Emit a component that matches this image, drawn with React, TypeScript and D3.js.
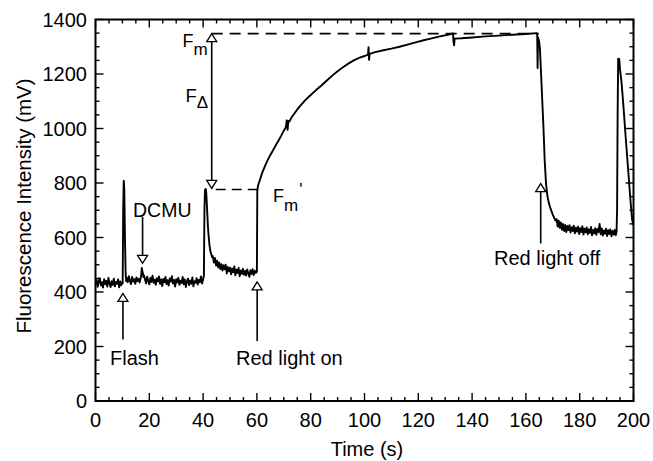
import React from 'react';
import * as d3 from 'd3';

type P = [number, number];

const xTicks = [0, 20, 40, 60, 80, 100, 120, 140, 160, 180, 200];
const yTicks = [0, 200, 400, 600, 800, 1000, 1200, 1400];

// Fluorescence trace (time s, mV)
const preFlash: P[] = [
  [0, 428], [0.4, 445], [0.8, 419], [1.2, 438], [1.6, 451], [2.0, 424], [2.4, 436], [2.8, 416],
  [3.2, 447], [3.6, 429], [4.0, 441], [4.4, 420], [4.8, 452], [5.2, 433], [5.6, 418], [6.0, 440],
  [6.4, 426], [6.8, 449], [7.2, 421], [7.6, 437], [8.0, 430], [8.4, 446], [8.8, 417], [9.2, 439],
  [9.6, 425], [10.0, 434],
];
const flashSpike: P[] = [
  [10.1, 432], [10.3, 700], [10.5, 808], [10.7, 780], [10.95, 600], [11.2, 470], [11.4, 440],
];
const postFlash: P[] = [
  [11.6, 452], [12.0, 436], [12.4, 458], [12.8, 441], [13.2, 429], [13.6, 455], [14.0, 438],
  [14.4, 447], [14.8, 430], [15.2, 453], [15.6, 440], [16.0, 449], [16.4, 435], [16.8, 451],
];
const dcmuBump: P[] = [
  [17.0, 462], [17.2, 488], [17.4, 478], [17.6, 470], [17.8, 455], [18.0, 461],
];
const postDcmu: P[] = [
  [18.4, 447], [18.8, 432], [19.2, 456], [19.6, 441], [20.0, 428], [20.4, 452], [20.8, 437],
  [21.2, 460], [21.6, 434], [22.0, 445], [22.4, 426], [22.8, 451], [23.2, 439], [23.6, 457],
  [24.0, 430], [24.4, 446], [24.8, 422], [25.2, 448], [25.6, 436], [26.0, 455], [26.4, 429],
  [26.8, 443], [27.2, 424], [27.6, 450], [28.0, 438], [28.4, 458], [28.8, 431], [29.2, 444],
  [29.6, 420], [30.0, 447], [30.4, 435], [30.8, 452], [31.2, 426], [31.6, 441], [32.0, 433],
  [32.4, 455], [32.8, 428], [33.2, 446], [33.6, 418], [34.0, 439], [34.4, 449], [34.8, 425],
  [35.2, 442], [35.6, 430], [36.0, 453], [36.4, 421], [36.8, 440], [37.2, 434], [37.6, 451],
  [38.0, 427], [38.4, 444], [38.8, 436], [39.2, 457], [39.6, 431], [40.0, 446],
];
const secondFlash: P[] = [
  [40.3, 460], [40.5, 700], [40.7, 775], [41.0, 778], [41.2, 760], [41.5, 700], [41.8, 640],
  [42.1, 600], [42.4, 570], [42.7, 550], [43.0, 540], [43.3, 528],
];
const darkDecay: P[] = [
  [43.6, 532], [44.0, 508], [44.4, 525], [44.8, 497], [45.2, 515], [45.6, 490], [46.0, 508],
  [46.4, 484], [46.8, 502], [47.2, 479], [47.6, 498], [48.0, 483], [48.4, 500], [48.8, 468],
  [49.2, 492], [49.6, 476], [50.0, 489], [50.4, 465], [50.8, 486], [51.2, 472], [51.6, 494],
  [52.0, 461], [52.4, 482], [52.8, 470], [53.2, 488], [53.6, 458], [54.0, 479], [54.4, 467],
  [54.8, 485], [55.2, 463], [55.6, 477], [56.0, 460], [56.4, 483], [56.8, 469], [57.2, 456],
  [57.6, 480], [58.0, 466], [58.4, 484], [58.8, 462], [59.2, 478], [59.6, 470],
];
const redLightRise: P[] = [
  [60.0, 475], [60.15, 770], [60.4, 790], [61, 808], [62, 838], [63, 862], [64, 884], [65, 903],
  [66, 920], [67, 938], [68, 955], [69, 973], [70, 992], [70.8, 1006], [71.1, 1030], [71.4, 995],
  [71.7, 1028], [72, 1025], [73, 1042], [74, 1056], [75, 1070], [76, 1082], [78, 1104], [80, 1123],
  [82, 1141], [84, 1158], [86, 1176], [88, 1194], [90, 1210], [92, 1225], [94, 1238], [96, 1250],
  [98, 1259], [100, 1266], [101.3, 1271], [101.5, 1298], [101.7, 1252], [101.9, 1274], [104, 1280],
  [107, 1287], [110, 1293], [113, 1300], [116, 1308], [119, 1316], [122, 1324], [125, 1331],
  [128, 1338], [131, 1344], [132.9, 1349], [133.1, 1318], [133.3, 1305], [133.5, 1330], [136, 1331],
  [140, 1334], [145, 1338], [150, 1341], [155, 1344], [160, 1347], [164.0, 1350], [164.2, 1345],
  [164.35, 1222], [164.5, 1335], [164.9, 1320],
];
const redLightFall: P[] = [
  [165.2, 1295], [165.6, 1210], [166.0, 1120], [166.5, 1010], [167.0, 880], [167.5, 795],
  [168.0, 752], [168.5, 728], [169.0, 711], [169.5, 697], [170.0, 684], [170.5, 672], [171.0, 662],
];
const lightOffTail: P[] = [
  [171.4, 668], [171.8, 640], [172.2, 662], [172.6, 635], [173.0, 655], [173.4, 628], [173.8, 650],
  [174.2, 624], [174.6, 646], [175.0, 620], [175.4, 642], [175.8, 627], [176.2, 645], [176.6, 618],
  [177.0, 638], [177.4, 624], [177.8, 643], [178.2, 615], [178.6, 636], [179.0, 622], [179.4, 640],
  [179.8, 613], [180.2, 634], [180.6, 620], [181.0, 641], [181.4, 611], [181.8, 632], [182.2, 619],
  [182.6, 637], [183.0, 612], [183.4, 630], [183.8, 617], [184.2, 639], [184.6, 608], [185.0, 628],
  [185.4, 615], [185.8, 634], [186.2, 610], [186.6, 631], [187.0, 620], [187.4, 650], [187.8, 612],
  [188.2, 633], [188.6, 607], [189.0, 626], [189.4, 614], [189.8, 632], [190.2, 605], [190.6, 627],
  [191.0, 613], [191.4, 630], [191.8, 604], [192.2, 624], [192.6, 611], [193.0, 628], [193.4, 608],
  [193.7, 622],
];
const finalFlash: P[] = [
  [193.9, 700], [194.1, 1050], [194.3, 1256], [194.5, 1240], [194.7, 1255], [195.0, 1215],
  [195.5, 1175], [196.0, 1115], [196.5, 1050], [197.0, 980], [197.5, 915], [198.0, 850],
  [198.5, 785], [199.0, 720], [199.5, 665], [200.0, 645],
];

const fmLevel = 1348;
const fmPrimeLevel = 776;

const FONT = '"Liberation Sans", Arial, Helvetica, sans-serif';

export default function App() {
  const x = d3.scaleLinear().domain([0, 200]).range([95.5, 633.5]);
  const y = d3.scaleLinear().domain([0, 1400]).range([401, 19.5]);

  const trace: P[] = [
    ...preFlash, ...flashSpike, ...postFlash, ...dcmuBump, ...postDcmu, ...secondFlash,
    ...darkDecay, ...redLightRise, ...redLightFall, ...lightOffTail, ...finalFlash,
  ];
  const line = d3.line<P>().x((d) => x(d[0])).y((d) => y(d[1]));

  const xMinor = d3.range(0, 201, 5);
  const yMinor = d3.range(0, 1401, 50);
  const [x0, x1] = x.range();
  const [yb, yt] = y.range();

  const triUp = (cx: number, cy: number) =>
    `M${cx},${cy} L${cx - 5},${cy + 8} L${cx + 5},${cy + 8} Z`;
  const triDown = (cx: number, cy: number) =>
    `M${cx},${cy} L${cx - 5},${cy - 8} L${cx + 5},${cy - 8} Z`;

  const arrowUp = (t: number, tip: number, tail: number, key: string) => {
    const cx = x(t);
    const ty = y(tip);
    return (
      <g key={key}>
        <line x1={cx} x2={cx} y1={ty + 8} y2={y(tail)} stroke="#000" strokeWidth={1.6} />
        <path d={triUp(cx, ty)} fill="#fff" stroke="#000" strokeWidth={1.3} />
      </g>
    );
  };

  const fmX = x(43.2);

  return (
    <svg width={653} height={461} style={{ position: 'absolute', left: 0, top: 0, background: '#fff' }}
      fontFamily={FONT}>
      <rect x={0} y={0} width={653} height={461} fill="#fff" />
      {/* ticks */}
      {xMinor.map((t) => {
        const major = t % 20 === 0;
        const len = major ? 8 : 4;
        return (
          <g key={'xt' + t} stroke="#000" strokeWidth={1.4}>
            <line x1={x(t)} x2={x(t)} y1={yb} y2={yb - len} />
            <line x1={x(t)} x2={x(t)} y1={yt} y2={yt + len} />
          </g>
        );
      })}
      {yMinor.map((v) => {
        const major = v % 200 === 0;
        const len = major ? 8 : 4;
        return (
          <g key={'yt' + v} stroke="#000" strokeWidth={1.4}>
            <line x1={x0} x2={x0 + len} y1={y(v)} y2={y(v)} />
            <line x1={x1} x2={x1 - len} y1={y(v)} y2={y(v)} />
          </g>
        );
      })}
      <rect x={x0} y={yt} width={x1 - x0} height={yb - yt} fill="none" stroke="#000" strokeWidth={2} />
      {/* tick labels */}
      {xTicks.map((t) => (
        <text key={'xl' + t} x={x(t)} y={427} textAnchor="middle" fontSize={20} fill="#000">{t}</text>
      ))}
      {yTicks.map((v) => (
        <text key={'yl' + v} x={87} y={y(v)} dy="0.36em" textAnchor="end" fontSize={20} fill="#000">{v}</text>
      ))}
      <text x={367} y={456} textAnchor="middle" fontSize={20} fill="#000">Time (s)</text>
      <text transform="translate(30.5,206) rotate(-90)" textAnchor="middle" fontSize={20.5} fill="#000">
        Fluorescence Intensity (mV)
      </text>

      {/* dashed reference lines */}
      <line x1={fmX} x2={x(164.8)} y1={y(fmLevel)} y2={y(fmLevel)} stroke="#000" strokeWidth={1.6}
        strokeDasharray="11 7" />
      <line x1={fmX + 4} x2={x(60.1)} y1={y(fmPrimeLevel)} y2={y(fmPrimeLevel)} stroke="#000"
        strokeWidth={1.6} strokeDasharray="10 6" />

      {/* trace */}
      <path d={line(trace) || ''} fill="none" stroke="#000" strokeWidth={1.9} strokeLinejoin="round" />

      {/* F-delta double arrow */}
      <line x1={fmX} x2={fmX} y1={y(fmLevel) + 8} y2={y(780) - 8} stroke="#000" strokeWidth={1.6} />
      <path d={triUp(fmX, y(fmLevel))} fill="#fff" stroke="#000" strokeWidth={1.3} />
      <path d={triDown(fmX, y(780))} fill="#fff" stroke="#000" strokeWidth={1.3} />

      {/* DCMU arrow (pointing down) */}
      <line x1={x(17.5)} x2={x(17.5)} y1={y(675)} y2={y(505) - 8} stroke="#000" strokeWidth={1.6} />
      <path d={triDown(x(17.5), y(505))} fill="#fff" stroke="#000" strokeWidth={1.3} />

      {arrowUp(10.2, 395, 226, 'flash')}
      {arrowUp(60.1, 437, 220, 'on')}
      {arrowUp(165.5, 798, 578, 'off')}

      {/* labels */}
      <text x={133} y={216.5} fontSize={19.5} fill="#000">DCMU</text>
      <text x={110} y={365} fontSize={20} fill="#000">Flash</text>
      <text x={236} y={365} fontSize={20} fill="#000">Red light on</text>
      <text x={494} y={265} fontSize={20} fill="#000">Red light off</text>

      <text x={182.5} y={46.7} fontSize={18} fill="#000">
        F<tspan fontSize={17} dy={8}>m</tspan>
      </text>
      <text x={185.5} y={101.5} fontSize={18.5} fill="#000">
        F<tspan fontSize={17} dy={6}>Δ</tspan>
      </text>
      <text x={273} y={201.5} fontSize={18} fill="#000">
        F<tspan fontSize={17} dy={9}>m</tspan><tspan fontSize={17} dy={-16} dx={1}>'</tspan>
      </text>
    </svg>
  );
}
